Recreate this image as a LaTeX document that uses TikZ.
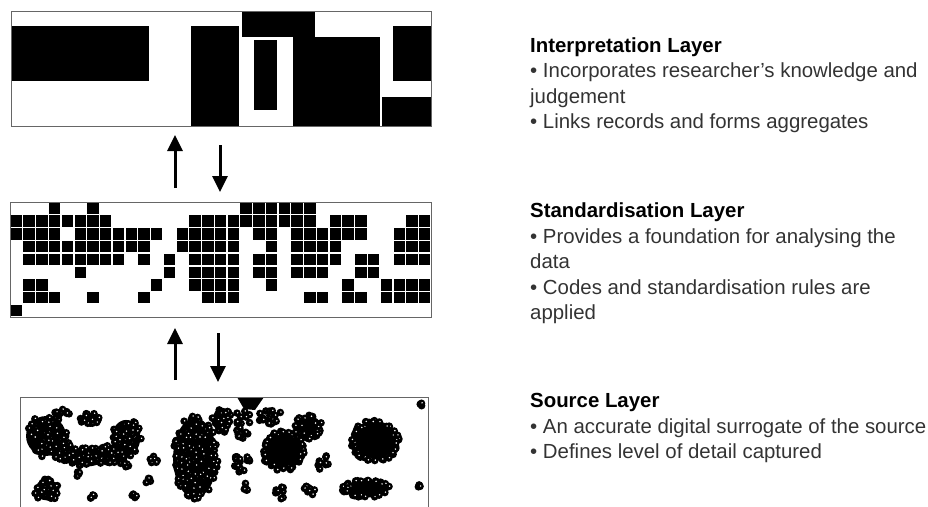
\documentclass[tikz,border=0pt]{standalone}
\usepackage{fontspec}
\setmainfont{Liberation Sans}
\usepackage{tikz}
\usetikzlibrary{positioning,arrows.meta,calc}

\newcommand{\rings}[6]{%
  \foreach \k in {1,...,#5}{%
    \pgfmathsetmacro{\ang}{360*rnd}%
    \pgfmathsetmacro{\rr}{#6+(1-#6)*sqrt(rnd)}%
    \pgfmathsetmacro{\px}{#1+#3*\rr*cos(\ang)}%
    \pgfmathsetmacro{\py}{#2+#4*\rr*sin(\ang)}%
    \fill (\px,\py) circle (3.8);
    \fill[white] (\px+0.6,\py-0.4) circle (0.8);
  }}
\newcommand{\blob}[6]{%
  \fill (#1,#2) ellipse [x radius=#3*0.95, y radius=#4*0.95];
  \rings{#1}{#2}{#3}{#4}{#5}{#6}}

\begin{document}
\begin{tikzpicture}[x=1pt,y=-1pt,
    layerbox/.style={draw=black!60, line width=1.3pt, inner sep=0pt, anchor=north west},
    arr/.style={-{Triangle[width=15pt,length=16pt]}, line width=3pt},
    layertext/.style={anchor=north west, inner sep=0pt, align=left, text=black!80,
      font=\fontsize{20.4}{25.5}\selectfont}]
    \useasboundingbox (0,0) rectangle (928,506);
    \pgfmathsetseed{11}

    \fill (12,26) rectangle (149,81);
    \fill (191,26) rectangle (239,126);
    \fill (242,11) rectangle (315,37);
    \fill (254,40) rectangle (277,110);
    \fill (293,37) rectangle (380,126);
    \fill (393,26) rectangle (431,81);
    \fill (382,97) rectangle (431,126);
    \node[layerbox, minimum width=420pt, minimum height=115pt](interp) at (11,11){};

    \foreach \r/\cols in {0/{3,6,18,19,20,21,22,23},
        1/{0,...,7,14,15,...,23,25,26,27,31,32},
        2/{0,1,2,3,5,6,...,11,13,14,...,17,19,20,22,23,...,27,30,31,32},
        3/{1,2,...,10,13,14,...,17,20,22,23,24,25,30,31,32},
        4/{1,2,...,8,10,12,14,15,16,17,19,20,22,23,24,25,27,28,30,31,32},
        5/{5,12,14,15,16,17,19,20,22,23,24,27,28},
        6/{1,2,11,14,15,16,17,20,26,29,30,31,32},
        7/{1,2,3,6,10,15,16,17,23,24,26,27,29,30,31,32},
        8/{0}}{
      \foreach \c in \cols{
        \fill ({10.7+\c*12.76},{202.7+\r*12.76}) rectangle ++(11.4,11.4);
      }
    }
    \node[layerbox, minimum width=421pt, minimum height=115pt](stand) at (10,202){};

    \blob{46}{436}{21}{21}{70}{0}
    \blob{64}{452}{12}{10}{25}{0}
    \blob{86}{457}{20}{10}{45}{0}
    \blob{112}{454}{16}{10}{40}{0}
    \blob{126}{438}{15}{19}{50}{0}
    \blob{91}{419}{11}{6}{30}{0}
    \rings{62}{413}{8}{4}{9}{0}
    \blob{47}{490}{13}{11}{35}{0}
    \rings{77}{474}{4}{3}{4}{0}
    \rings{93}{497}{4}{3}{4}{0}
    \rings{125}{465}{5}{4}{6}{0}
    \rings{153}{460}{6}{5}{7}{0}
    \rings{147}{480}{4}{3}{4}{0}
    \rings{135}{496}{4}{3}{4}{0}
    \blob{195}{458}{23}{42}{150}{0}
    \blob{222}{420}{10}{13}{35}{0}
    \fill (237,397) -- (264,397) -- (255,410) -- (244,409) -- cycle;
    \rings{243}{424}{8}{19}{20}{0}
    \rings{268}{417}{16}{8}{20}{0}
    \rings{240}{463}{10}{9}{20}{0}
    \blob{283}{451}{21}{20}{55}{0.75}
    \blob{308}{427}{14}{12}{35}{0.4}
    \rings{322}{462}{7}{8}{10}{0}
    \rings{246}{487}{5}{4}{6}{0}
    \rings{280}{492}{5}{9}{10}{0}
    \rings{310}{490}{8}{5}{9}{0}
    \blob{375}{441}{24}{21}{60}{0.75}
    \blob{366}{489}{24}{9}{40}{0.6}
    \rings{421}{404}{2}{2}{3}{0}
    \rings{421}{486}{3}{4}{4}{0}
    \node[layerbox, minimum width=408pt, minimum height=111pt](source) at (20,397){};

    \coordinate (upA) at (175,188);
    \coordinate (upB) at (175,135);
    \coordinate (downA) at (220,145);
    \coordinate (downB) at (220,192);
    \draw[arr] (upA) -- (upB);
    \draw[arr] (downA) -- (downB);
    \coordinate (upC) at (175,380);
    \coordinate (upD) at (175,328);
    \coordinate (downC) at (218,333);
    \coordinate (downD) at (218,382);
    \draw[arr] (upC) -- (upD);
    \draw[arr] (downC) -- (downD);

    \node[layertext](interptext) at (530,37.4){\textcolor{black}{\bfseries Interpretation Layer}\\
      \textbullet\ Incorporates researcher’s knowledge and\\ judgement\\
      \textbullet\ Links records and forms aggregates};
    \node[layertext](standtext) at (530,202.8){\textcolor{black}{\bfseries Standardisation Layer}\\
      \textbullet\ Provides a foundation for analysing the\\ data\\
      \textbullet\ Codes and standardisation rules are\\ applied};
    \node[layertext](sourcetext) at (530,393.1){\textcolor{black}{\bfseries Source Layer}\\
      \textbullet\ An accurate digital surrogate of the source\\
      \textbullet\ Defines level of detail captured};
\end{tikzpicture}
\end{document}
